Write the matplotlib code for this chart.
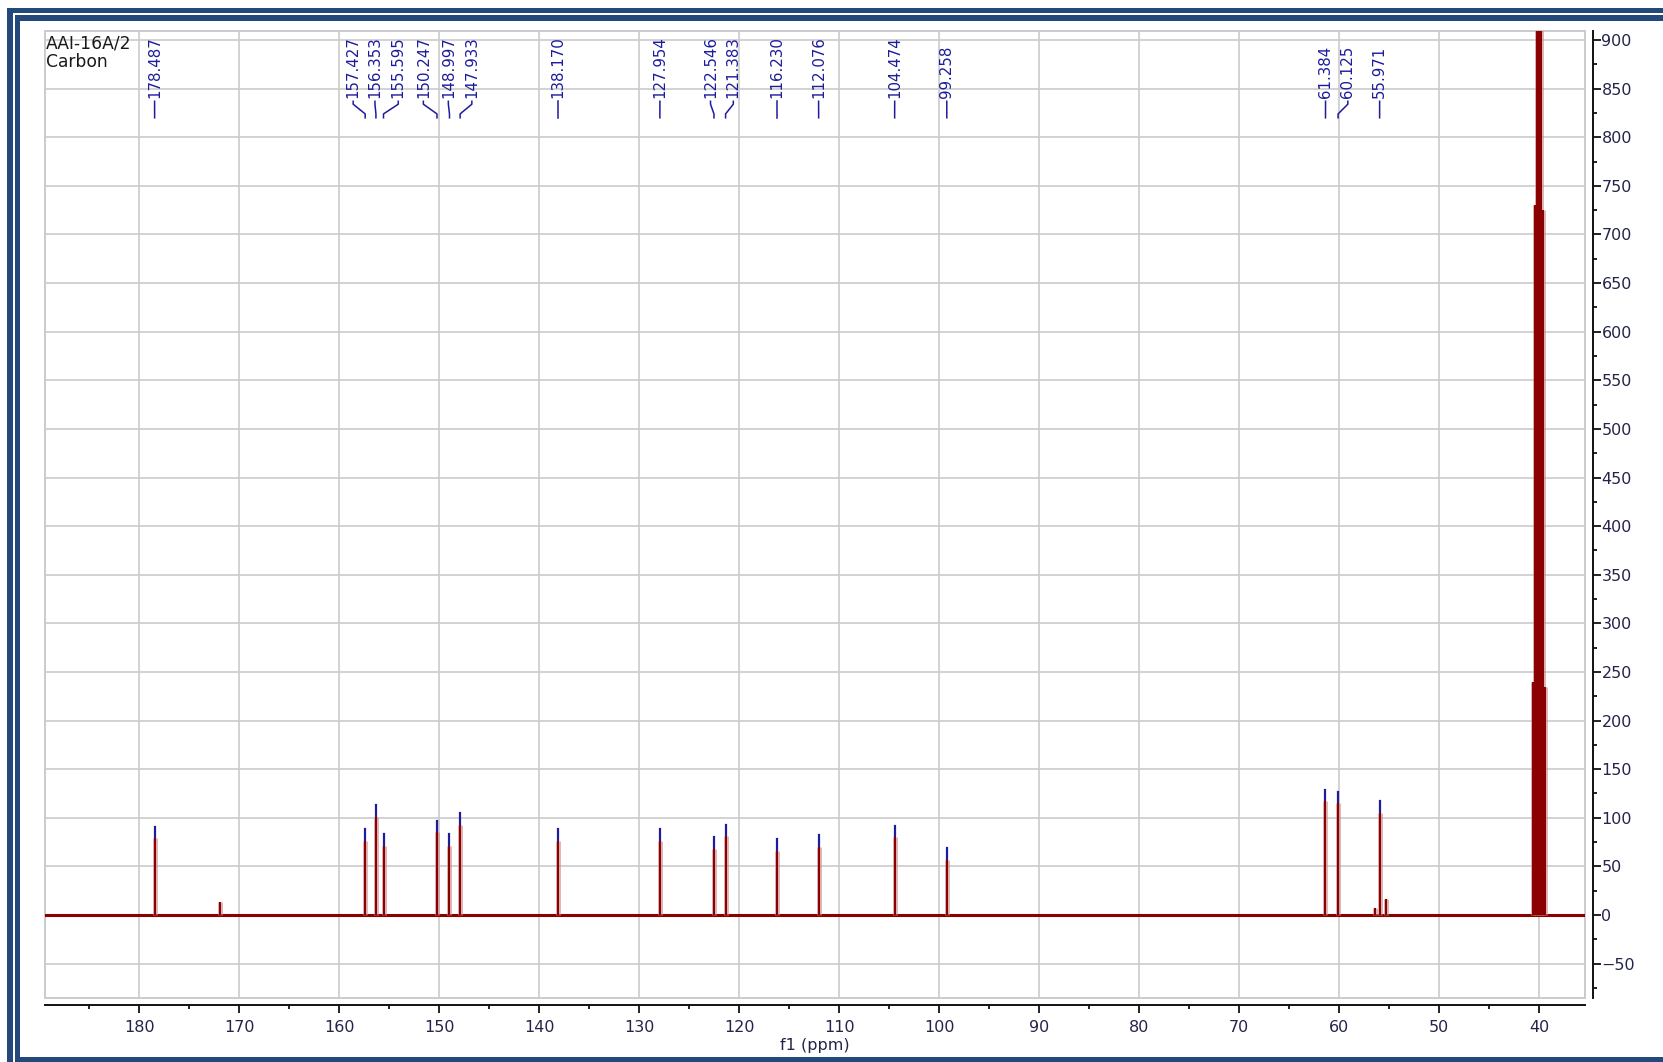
import matplotlib
matplotlib.use("Agg")
import matplotlib.pyplot as plt
from matplotlib.patches import Rectangle
from matplotlib.ticker import MultipleLocator

# labelled carbon peaks (ppm) and their heights
peak_ppm = [178.487, 157.427, 156.353, 155.595, 150.247, 148.997, 147.933,
            138.170, 127.954, 122.546, 121.383, 116.230, 112.076, 104.474,
            99.258, 61.384, 60.125, 55.971]
peak_height = [79, 76, 101, 71, 85, 71, 93,
               76, 76, 68, 81, 66, 70, 80,
               57, 117, 115, 105]
# where each label sits along the axis (labels spread apart in crowded spots)
label_ppm = [178.49, 158.63, 156.45, 154.12, 151.61, 149.11, 146.76,
             138.17, 127.95, 122.89, 120.61, 116.23, 112.08, 104.47,
             99.26, 61.38, 59.15, 55.97]

# small unlabelled lines
minor_ppm = [171.9, 56.4, 55.3]
minor_height = [13, 7, 16]

# DMSO-d6 septet (goes off scale)
solvent_ppm = [40.68, 40.47, 40.26, 40.05, 39.84, 39.63, 39.42]
solvent_height = [240, 730, 1440, 1680, 1440, 725, 235]

W, H = 1663, 1062
SPEC = "#8b0000"
LABEL = "#1c1c9c"
TEXT = "#24244a"
FRAME = "#22497a"


def fx(px):
    return px / W


def fy(py):
    return 1 - py / H


fig = plt.figure(figsize=(W / 100, H / 100), dpi=100)
fig.patch.set_facecolor("white")

# double blue border (cut off on the right in the original)
for x0, y0, x1, y1 in [(7, 8, W, 13), (7, 8, 13, H),
                       (15, 15, W, 21), (15, 15, 20, 1057), (15, 1057, W, H)]:
    fig.add_artist(Rectangle((fx(x0), fy(y1)), fx(x1 - x0), (y1 - y0) / H,
                             transform=fig.transFigure, color=FRAME, lw=0))

ax = fig.add_axes([fx(45), fy(998.3), fx(1585 - 45), (998.3 - 30.7) / H])
ax.set_xlim(189.45, 35.43)
ax.set_ylim(-85.7, 909.6)

ax.grid(True, color="#cbcbcb", lw=1.2)
ax.set_axisbelow(True)
ax.add_patch(Rectangle((0, 0), 1, 1, transform=ax.transAxes, fill=False,
                       edgecolor="#cbcbcb", lw=1.4, clip_on=False, zorder=1))

# spectrum
ax.axhline(0, color=SPEC, lw=2.2, zorder=3)
all_ppm = peak_ppm + minor_ppm + solvent_ppm
all_h = peak_height + minor_height + solvent_height
ax.vlines(all_ppm, 0, all_h, color="#c98a8a", lw=3.6, alpha=0.6, zorder=3)
ax.vlines(all_ppm, 0, all_h, color=SPEC, lw=1.5, zorder=4)

# peak picks
for p, h, lp in zip(peak_ppm, peak_height, label_ppm):
    ax.plot([p, p], [h + 1, h + 12], color=LABEL, lw=1.6, zorder=5)
    ax.plot([lp, lp, p, p], [837, 834, 824, 820], color=LABEL, lw=1.1, zorder=5)
    ax.text(lp, 840, f"{p:.3f}", rotation=90, ha="center", va="bottom",
            fontsize=10.8, color=LABEL, zorder=5)

ax.text(0.0005, 0.996, "AAI-16A/2\nCarbon", transform=ax.transAxes,
        ha="left", va="top", fontsize=12.3, color="#1a1a1a", linespacing=1.02)

# axes: black spines offset from the grey frame
ax.spines["left"].set_visible(False)
ax.spines["top"].set_visible(False)
ax.spines["right"].set_position(("outward", 5.8))
ax.spines["bottom"].set_position(("outward", 5.0))
for s in ("right", "bottom"):
    ax.spines[s].set_color("#111111")
    ax.spines[s].set_linewidth(1.4)

ax.yaxis.tick_right()
ax.xaxis.set_major_locator(MultipleLocator(10))
ax.xaxis.set_minor_locator(MultipleLocator(5))
ax.yaxis.set_major_locator(MultipleLocator(50))
ax.yaxis.set_minor_locator(MultipleLocator(25))
ax.tick_params(axis="both", which="both", direction="out", color="#111111",
               width=1.3, labelcolor=TEXT, labelsize=11.5)
ax.tick_params(axis="x", which="major", length=5.5, pad=5)
ax.tick_params(axis="x", which="minor", length=3)
ax.tick_params(axis="y", which="major", length=5.5, pad=0.5)
ax.tick_params(axis="y", which="minor", length=3)
ax.set_xlabel("f1 (ppm)", fontsize=11.5, color=TEXT, labelpad=2)

fig.savefig("out.png", dpi=100, facecolor="white")
